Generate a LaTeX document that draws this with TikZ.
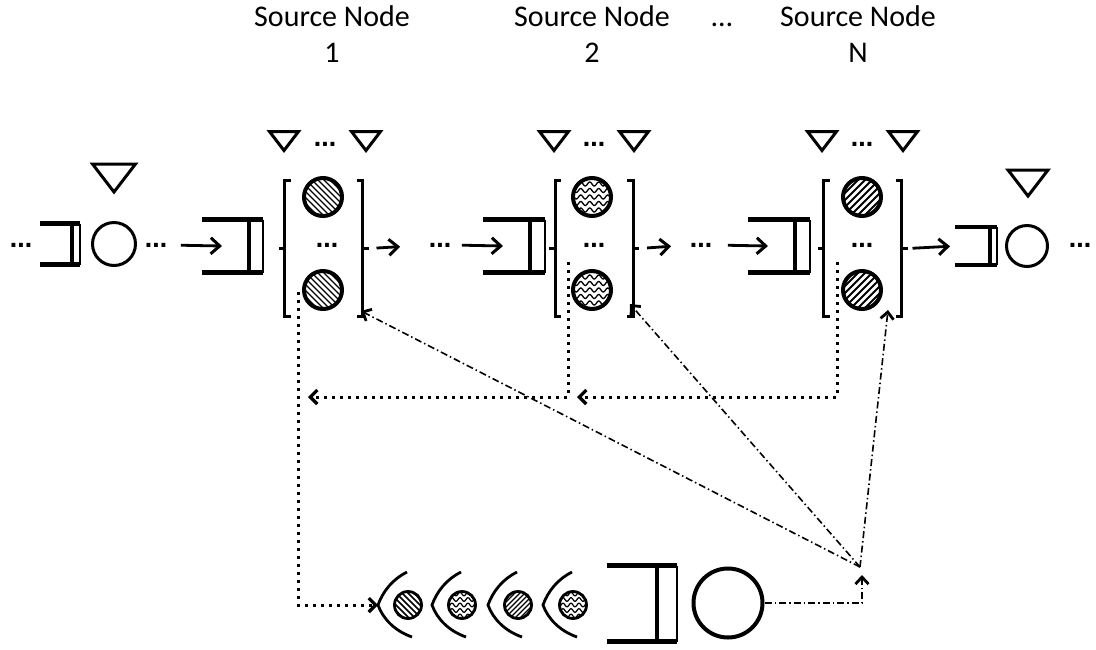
\documentclass[tikz,border=0pt]{standalone}
\usepackage{fontspec}
\setmainfont{Carlito}
\newfontfamily\dotfont{DejaVu Sans}
\usetikzlibrary{arrows.meta}

\tikzset{
  % open-ended buffer: two rails, a slot bar and a thin back wall
  pics/fifo/.style n args={4}{code={
    \draw[line width=2.2pt] (0,-#2/2) -- (0,#2/2);
    \draw[line width=4pt] (-#3,-#2/2) -- (-#3,#2/2);
    \draw[line width=#4] (-#1,-#2/2) -- (0,-#2/2) (-#1,#2/2) -- (0,#2/2);
    \coordinate (-back) at (-#1,0);
    \coordinate (-mouth) at (-#1+20,0);
  }},
  % downward triangle marker
  pics/tri/.style n args={2}{code={
    \draw[line width=3pt] (-#1/2,-#2/2) -- (#1/2,-#2/2) -- (0,#2/2) -- cycle;
  }},
  % pair of square brackets around a source's packet column
  pics/cage/.style={code={
    \draw[line width=3pt] (-#1+6,-68) -- (-#1,-68) -- (-#1,68) -- (-#1+6,68)
                          (-#1,0) -- (-#1-6,0);
    \draw[line width=3pt] (#1-6,-68) -- (#1,-68) -- (#1,68) -- (#1-6,68)
                          (#1,0) -- (#1+6,0);
    \coordinate (-in) at (-#1-6,0);
    \coordinate (-out) at (#1+6,0);
  }},
  % curved chevron in front of a queued packet
  pics/chev/.style={code={
    \draw[line width=2.8pt] (29,-33) .. controls (15,-26) and (5,-14) .. (0,0)
                            .. controls (5,14) and (17,26) .. (34,32);
  }},
  bead/.style={circle, draw, line width=4pt, minimum size=38pt, inner sep=0pt},
  smallbead/.style={circle, draw, line width=2.8pt, minimum size=27pt, inner sep=0pt},
  ring/.style={circle, draw, inner sep=0pt},
  nwfill/.style n args={2}{path picture={
    \foreach \k in {-10,...,10}
      \draw[line width=#2] ([shift={(\k*#1-40,-40)}]path picture bounding box.center) -- ++(80,80);
  }},
  nefill/.style n args={2}{path picture={
    \foreach \k in {-10,...,10}
      \draw[line width=#2] ([shift={(\k*#1-40,40)}]path picture bounding box.center) -- ++(80,-80);
  }},
  wavefill/.style n args={4}{path picture={
    \foreach \j in {-4,...,4}
      \draw[line width=#4, shift={(path picture bounding box.center)}]
        plot[domain=-24:24, samples=70, smooth] (\x, {\j*#1 + #2*sin(\x*360/#3)});
  }},
  dotsn/.style={inner sep=0pt, font=\dotfont\bfseries\fontsize{22}{22}\selectfont},
  srclabel/.style={anchor=north, align=center, inner sep=0pt, font=\fontsize{30}{36}\selectfont},
  flow/.style={line width=2.8pt, -{Straight Barb[length=9pt,width=16pt,line width=3pt]}},
  dotline/.style={line width=3pt, dash pattern=on 3pt off 5pt},
  dotarrow/.style={dotline, -{Straight Barb[length=7pt,width=14pt,line width=3.2pt]}},
  ddarrow/.style={line width=1.6pt, dash pattern=on 7pt off 3pt on 1.5pt off 3pt,
                  -{Straight Barb[length=7pt,width=13pt,line width=2.8pt]}},
}
% three heavy dots set close together
\newcommand{\tightdots}{.\kern-0.8pt.\kern-0.8pt.}

\begin{document}
\begin{tikzpicture}[x=1pt, y=-1pt]
\useasboundingbox (0,0) rectangle (1096,649);

% ---- source labels ----
\node[srclabel] (n1) at (332,5) {Source Node\\1};
\node[srclabel] (n2) at (592,5) {Source Node\\2};
\node[srclabel] (nN) at (858,5) {Source Node\\N};
\node[anchor=base, inner sep=0pt, font=\fontsize{30}{36}\selectfont] (nd) at (722,26) {…};

% ---- upstream node ----
\node[dotsn] (d0) at (21,245) {\tightdots};
\pic (q0) at (80,244) {fifo={40}{41}{8}{4.5pt}};
\node[ring, line width=3pt, minimum size=43pt] (c0) at (114,244) {};
\pic at (114,178) {tri={43}{28}};
\node[dotsn] (d1) at (156,245) {\tightdots};

% ---- source node 1 ----
\pic (q1) at (263,246) {fifo={61}{53}{14}{5pt}};
\pic (s1) at (323.5,248.5) {cage=39};
\node[bead, nwfill={6}{1.3pt}] (s1a) at (323,197) {};
\node[bead, nwfill={6}{1.3pt}] (s1b) at (323,290) {};
\node[dotsn] (s1m) at (327,245) {\tightdots};
\pic at (284,141) {tri={29}{19}};
\pic at (366,141) {tri={29}{19}};
\node[dotsn] (s1t) at (325,144) {\tightdots};
\node[dotsn] (d2) at (440,245) {\tightdots};

% ---- source node 2 ----
\pic (q2) at (545,246) {fifo={62}{53}{15}{5pt}};
\pic (s2) at (594,248.5) {cage=39};
\node[bead, wavefill={6.5}{2}{9}{1.3pt}] (s2a) at (592,197) {};
\node[bead, wavefill={6.5}{2}{9}{1.3pt}] (s2b) at (592,290) {};
\node[dotsn] (s2m) at (594,245) {\tightdots};
\pic at (554,141) {tri={29}{19}};
\pic at (634,141) {tri={29}{19}};
\node[dotsn] (s2t) at (594,144) {\tightdots};
\node[dotsn] (d3) at (701,245) {\tightdots};

% ---- source node N ----
\pic (qN) at (810,246) {fifo={62}{53}{15}{5pt}};
\pic (sN) at (862.5,248.5) {cage=39};
\node[bead, nefill={7}{2pt}] (sNa) at (862,197) {};
\node[bead, nefill={7}{2pt}] (sNb) at (862,290) {};
\node[dotsn] (sNm) at (862,245) {\tightdots};
\pic at (822,141) {tri={29}{19}};
\pic at (903,141) {tri={29}{19}};
\node[dotsn] (sNt) at (862,144) {\tightdots};

% ---- downstream node ----
\pic (q5) at (997,246) {fifo={42}{38}{7}{4.5pt}};
\node[ring, line width=3pt, minimum size=41pt] (c5) at (1027,246) {};
\pic at (1028,183) {tri={40}{26}};
\node[dotsn] (d5) at (1080,245) {\tightdots};

% ---- forward flow ----
\draw[flow, shorten <=13pt] (d1.east) -- (q1-mouth);
\draw[flow, shorten <=8pt, shorten >=28pt] (s1-out) -- (d2.west);
\draw[flow, shorten <=10pt] (d2.east) -- (q2-mouth);
\draw[flow, shorten <=8pt, shorten >=18pt] (s2-out) -- (d3.west);
\draw[flow, shorten <=15pt] (d3.east) -- (qN-mouth);
\draw[flow, shorten <=5pt, shorten >=5pt] (sN-out) -- (q5-back);

% ---- aggregation queue ----
\pic at (378,605) {chev};
\coordinate (ch1) at (378,605);
\node[smallbead, nwfill={6}{1.5pt}] (b1) at (408,605) {};
\pic at (432,605) {chev};
\node[smallbead, wavefill={5.5}{1.8}{8}{1.2pt}] (b2) at (462,605) {};
\pic at (488,605) {chev};
\node[smallbead, nefill={5}{1.2pt}] (b3) at (518,605) {};
\pic at (543,605) {chev};
\node[smallbead, wavefill={5.5}{1.8}{8}{1.2pt}] (b4) at (573,605) {};
\pic (qB) at (677,603.5) {fifo={70}{76}{20}{5pt}};
\node[ring, line width=4pt, minimum size=69pt] (cB) at (728,603) {};

% ---- collected packets (dotted) ----
\coordinate (s1tap) at (298,292);
\coordinate (s2tap) at (568,262);
\coordinate (sNtap) at (837,262);
\coordinate (m2) at (577,397);
\coordinate (m1) at (308,397);
\draw[dotarrow] (sNtap) |- (m2);
\draw[dotarrow] (s2tap) |- (m1);
\draw[dotarrow] (s1tap) |- (ch1);

% ---- feedback (dash-dot) ----
\coordinate (up) at (862,575);
\coordinate (hub) at (860,567);
\coordinate (t1) at (361,311);
\coordinate (t2) at (630,304);
\coordinate (t3) at (888,310);
\draw[ddarrow] (cB.east) -| (up);
\draw[ddarrow] (hub) -- (t1);
\draw[ddarrow] (hub) -- (t2);
\draw[ddarrow] (hub) -- (t3);
\end{tikzpicture}
\end{document}
